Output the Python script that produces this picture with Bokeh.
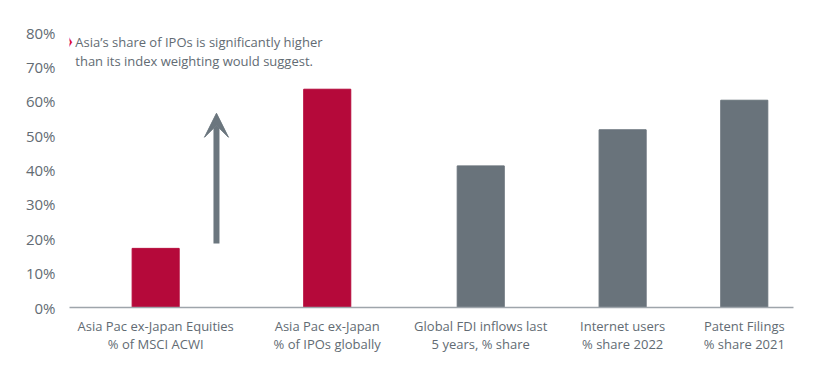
from bokeh.plotting import figure
from bokeh.models import ColumnDataSource, FixedTicker, PrintfTickFormatter, Range1d, Arrow, VeeHead, Label
from bokeh.embed import file_html
from bokeh.resources import INLINE

categories = [
    "Asia Pac ex-Japan Equities\n% of MSCI ACWI",
    "Asia Pac ex-Japan\n% of IPOs globally",
    "Global FDI inflows last\n5 years, % share",
    "Internet users\n% share 2022",
    "Patent Filings\n% share 2021",
]
values = [17.2, 63.5, 41.2, 51.7, 60.3]
bar_colors = ["#b5093a", "#b5093a", "#69737b", "#69737b", "#69737b"]
y_ticks = [0, 10, 20, 30, 40, 50, 60, 70, 80]
note_lines = ["Asia\u2019s share of IPOs is significantly higher", "than its index weighting would suggest."]

# layout: category slot centres along the axis (0-100 scale)
slot_centers = [11.9, 35.6, 56.8, 76.4, 93.2]
bar_width = 6.5

src = ColumnDataSource(dict(x=slot_centers, top=values, color=bar_colors))

p = figure(width=812, height=368, output_backend="svg", toolbar_location=None,
           x_range=Range1d(0, 100), y_range=Range1d(0, 80),
           min_border_left=69, min_border_right=19, min_border_top=32, min_border_bottom=61)
p.vbar(x="x", top="top", width=bar_width, color="color", source=src)

p.outline_line_color = None
p.xgrid.grid_line_color = None
p.ygrid.grid_line_color = None
p.background_fill_color = "white"

font = "Open Sans"
label_color = "#626b73"

p.yaxis.ticker = FixedTicker(ticks=y_ticks)
p.yaxis.formatter = PrintfTickFormatter(format="%d%%")
p.yaxis.axis_line_color = None
p.yaxis.major_tick_line_color = None
p.yaxis.minor_tick_line_color = None
p.yaxis.major_label_text_font = font
p.yaxis.major_label_text_font_size = "15px"
p.yaxis.major_label_text_color = label_color
p.yaxis.major_label_standoff = 8

p.xaxis.ticker = FixedTicker(ticks=slot_centers)
p.xaxis.major_label_overrides = {c: lab for c, lab in zip(slot_centers, categories)}
p.xaxis.axis_line_color = "#9ea5ab"
p.xaxis.axis_line_width = 1.5
p.xaxis.major_tick_line_color = None
p.xaxis.minor_tick_line_color = None
p.xaxis.major_label_text_font = font
p.xaxis.major_label_text_font_size = "13px"
p.xaxis.major_label_text_color = label_color
p.xaxis.major_label_standoff = 3
p.xaxis.major_label_text_line_height = 1.0

p.add_layout(Arrow(end=VeeHead(size=24, fill_color="#6b767e", line_color="#6b767e"),
                   x_start=20.3, y_start=18.6, x_end=20.3, y_end=56.5,
                   line_color="#6b767e", line_width=6))

p.add_layout(Label(x=-0.6, y=77.4, text="\u276f", text_font="DejaVu Sans",
                   text_font_size="10px", text_color="#e0102f", text_baseline="middle"))
p.add_layout(Label(x=0.8, y=79.8, text="\n".join(note_lines), text_font=font,
                   text_font_size="13px", text_color=label_color, text_baseline="top",
                   text_line_height=1.05))

open("out.html", "w").write(file_html(p, INLINE))
